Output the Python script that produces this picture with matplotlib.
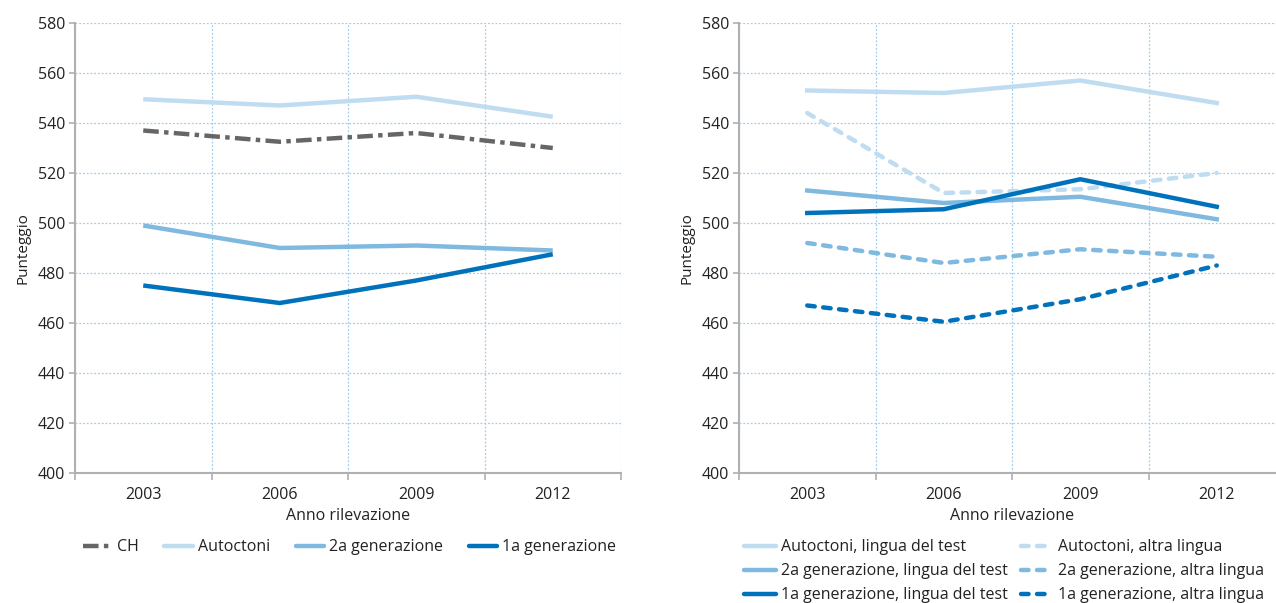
import numpy as np
import matplotlib; matplotlib.use('Agg')
import matplotlib.pyplot as plt
from matplotlib.lines import Line2D

plt.rcParams['font.family'] = ['Open Sans', 'DejaVu Sans']

years = ['2003', '2006', '2009', '2012']

# left panel
ch        = [537, 532.5, 536, 530]
autoctoni = [549.5, 547, 550.5, 542.5]
gen2      = [499, 490, 491, 489]
gen1      = [475, 468, 477, 487.5]

# right panel
aut_test  = [553, 552, 557, 548]
aut_altra = [544, 512, 513.5, 520]
g2_test   = [513, 508, 510.5, 501.5]
g2_altra  = [492, 484, 489.5, 486.5]
g1_test   = [504, 505.5, 517.5, 506.5]
g1_altra  = [467, 460.5, 469.5, 483]

LIGHT = '#bfdcf1'; MID = '#7fb9e0'; DARK = '#0072bc'; GREY = '#666666'
GRID = '#9fcdee'; SP = '#b0b0b0'; TXT = '#222222'
LW = 3.2
DASH = (0, (1.7, 1.9))
FS = 11.5

fig = plt.figure(figsize=(12.76, 6.03), dpi=100)
axL = fig.add_axes([75/1276, 130/603, 546/1276, 450/603])
axR = fig.add_axes([739/1276, 130/603, 546/1276, 450/603])

x = np.arange(len(years))

def sty(ax):
    ax.set_xlim(-0.5, 3.5); ax.set_ylim(400, 580)
    ax.set_yticks(np.arange(400, 581, 20))
    ax.set_xticks(x); ax.set_xticklabels(years)
    ax.set_xticks(np.arange(-0.5, 3.6, 1), minor=True)
    ax.tick_params(axis='x', which='major', length=0, pad=10, labelsize=FS, labelcolor=TXT)
    ax.tick_params(axis='x', which='minor', length=5, width=1.2, color=SP, direction='out')
    ax.tick_params(axis='y', length=4, width=1.2, color=SP, labelsize=FS, labelcolor=TXT, pad=3)
    ax.grid(axis='y', which='major', color=GRID, ls=(0, (1.5, 1.5)), lw=0.9)
    ax.grid(axis='x', which='minor', color=GRID, ls=(0, (1.5, 1.5)), lw=0.9)
    for s in ['top', 'right']: ax.spines[s].set_visible(False)
    for s in ['left', 'bottom']:
        ax.spines[s].set_color(SP); ax.spines[s].set_linewidth(1.5)
    ax.set_ylabel('Punteggio', fontsize=FS - 0.5, color=TXT, labelpad=5)
    ax.set_xlabel('Anno rilevazione', fontsize=FS, color=TXT, labelpad=4)
    ax.set_axisbelow(True)

sty(axL); sty(axR)

# left lines
axL.plot(x, autoctoni, color=LIGHT, lw=LW, solid_capstyle='butt')
axL.plot(x, gen2, color=MID, lw=LW, solid_capstyle='butt')
axL.plot(x, gen1, color=DARK, lw=LW, solid_capstyle='butt')
axL.plot(x, ch, color=GREY, lw=LW, ls=(0, (3.5, 1.2, 1, 1.2)))

hL = [Line2D([], [], color=GREY, lw=LW, ls=(0, (3.5, 1.2, 1, 1.2))),
      Line2D([], [], color=LIGHT, lw=LW, solid_capstyle='round'),
      Line2D([], [], color=MID, lw=LW, solid_capstyle='round'),
      Line2D([], [], color=DARK, lw=LW, solid_capstyle='round')]
axL.legend(hL, ['CH', 'Autoctoni', '2a generazione', '1a generazione'],
           loc='upper left', bbox_to_anchor=(0.015, -0.147), ncol=4, frameon=False,
           fontsize=FS, handlelength=1.8, handletextpad=0.3, columnspacing=1.6,
           labelcolor=TXT, borderaxespad=0, borderpad=0)

# right lines
axR.plot(x, aut_test, color=LIGHT, lw=LW)
axR.plot(x, aut_altra, color=LIGHT, lw=LW, ls=DASH, dash_capstyle='round')
axR.plot(x, g2_test, color=MID, lw=LW)
axR.plot(x, g1_test, color=DARK, lw=LW)
axR.plot(x, g2_altra, color=MID, lw=LW, ls=DASH, dash_capstyle='round')
axR.plot(x, g1_altra, color=DARK, lw=LW, ls=DASH, dash_capstyle='round')

hR = [Line2D([], [], color=LIGHT, lw=LW, solid_capstyle='round'),
      Line2D([], [], color=MID, lw=LW, solid_capstyle='round'),
      Line2D([], [], color=DARK, lw=LW, solid_capstyle='round'),
      Line2D([], [], color=LIGHT, lw=LW, ls=DASH, dash_capstyle='round'),
      Line2D([], [], color=MID, lw=LW, ls=DASH, dash_capstyle='round'),
      Line2D([], [], color=DARK, lw=LW, ls=DASH, dash_capstyle='round')]
axR.legend(hR, ['Autoctoni, lingua del test', '2a generazione, lingua del test',
                '1a generazione, lingua del test', 'Autoctoni, altra lingua',
                '2a generazione, altra lingua', '1a generazione, altra lingua'],
           loc='upper left', bbox_to_anchor=(0.01, -0.147), ncol=2, frameon=False,
           fontsize=FS, handlelength=2.0, handletextpad=0.3, columnspacing=0.8,
           labelspacing=0.5, labelcolor=TXT, borderaxespad=0, borderpad=0)

fig.savefig('out.png', dpi=100)
